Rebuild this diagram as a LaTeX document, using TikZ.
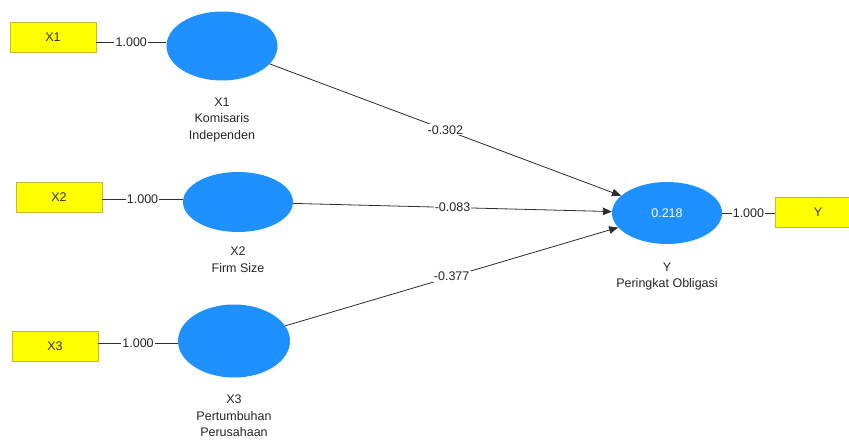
\documentclass[tikz,border=0pt]{standalone}
\usepackage{fontspec}
\setmainfont{Liberation Sans}
\usetikzlibrary{arrows.meta,shapes.geometric}
\definecolor{lvblue}{RGB}{30,144,255}
\definecolor{mvyellow}{RGB}{255,255,0}
\definecolor{mvborder}{RGB}{190,190,40}
\definecolor{edgegray}{RGB}{45,45,45}
\tikzset{
  latent/.style={ellipse, fill=lvblue, draw=none, minimum width=#1},
  mv/.style={rectangle, fill=mvyellow, draw=mvborder, line width=0.6pt, minimum width=86pt, minimum height=30pt, font=\fontsize{12.5}{15}\selectfont, text=black!80},
  lbl/.style={align=center, inner sep=0pt, font=\fontsize{12.5}{16.7}\selectfont, text=black!85},
  coef/.style={fill=white, inner sep=1.2pt, font=\fontsize{12.5}{14}\selectfont, text=black!85},
  conn/.style={draw=edgegray, line width=0.8pt},
  path/.style={draw=edgegray, line width=0.8pt, -{Triangle[length=9pt,width=7.5pt]}}
}
\begin{document}
\begin{tikzpicture}[x=1pt,y=-1pt]
\useasboundingbox (0,0) rectangle (849,443);
\clip (0,0) rectangle (849,443);
% latent variables
\node[latent, minimum width=111pt, minimum height=69pt] (lx1) at (222,46) {};
\node[latent, minimum width=110pt, minimum height=60pt] (lx2) at (238,202) {};
\node[latent, minimum width=112pt, minimum height=73pt] (lx3) at (234,341) {};
\node[latent, minimum width=110pt, minimum height=62pt, text=white, font=\fontsize{12.5}{14}\selectfont] (ly) at (667,213) {0.218};
% indicators
\node[mv] (mx1) at (53,37) {X1};
\node[mv] (mx2) at (59,197) {X2};
\node[mv] (mx3) at (55,346) {X3};
\node[mv] (my) at (818,212) {Y};
% labels
\node[lbl, anchor=north] (tx1) at (222,97.5) {X1\\Komisaris\\Independen};
\node[lbl, anchor=north] (tx2) at (238,246.5) {X2\\Firm Size};
\node[lbl, anchor=north] (tx3) at (234,394.5) {X3\\Pertumbuhan\\Perusahaan};
\node[lbl, anchor=north] (ty) at (667,262.5) {Y\\Peringkat Obligasi};
% outer loadings
\coordinate (r1) at (0,42);
\coordinate (r2) at (0,199);
\coordinate (r3) at (0,343);
\coordinate (r4) at (0,213);
\draw[conn] (mx1.east |- r1) -- node[coef] {1.000} (lx1.west |- r1);
\draw[conn] (mx2.east |- r2) -- node[coef] {1.000} (lx2.west |- r2);
\draw[conn] (mx3.east |- r3) -- node[coef] {1.000} (lx3.west |- r3);
\draw[conn] (ly.east |- r4) -- node[coef] {1.000} (my.west |- r4);
% path coefficients
\draw[path] (lx1) -- node[coef, pos=0.5] {-0.302} (ly);
\draw[path] (lx2) -- node[coef, pos=0.5] {-0.083} (ly);
\draw[path] (lx3) -- node[coef, pos=0.5] {-0.377} (ly);
\end{tikzpicture}
\end{document}
